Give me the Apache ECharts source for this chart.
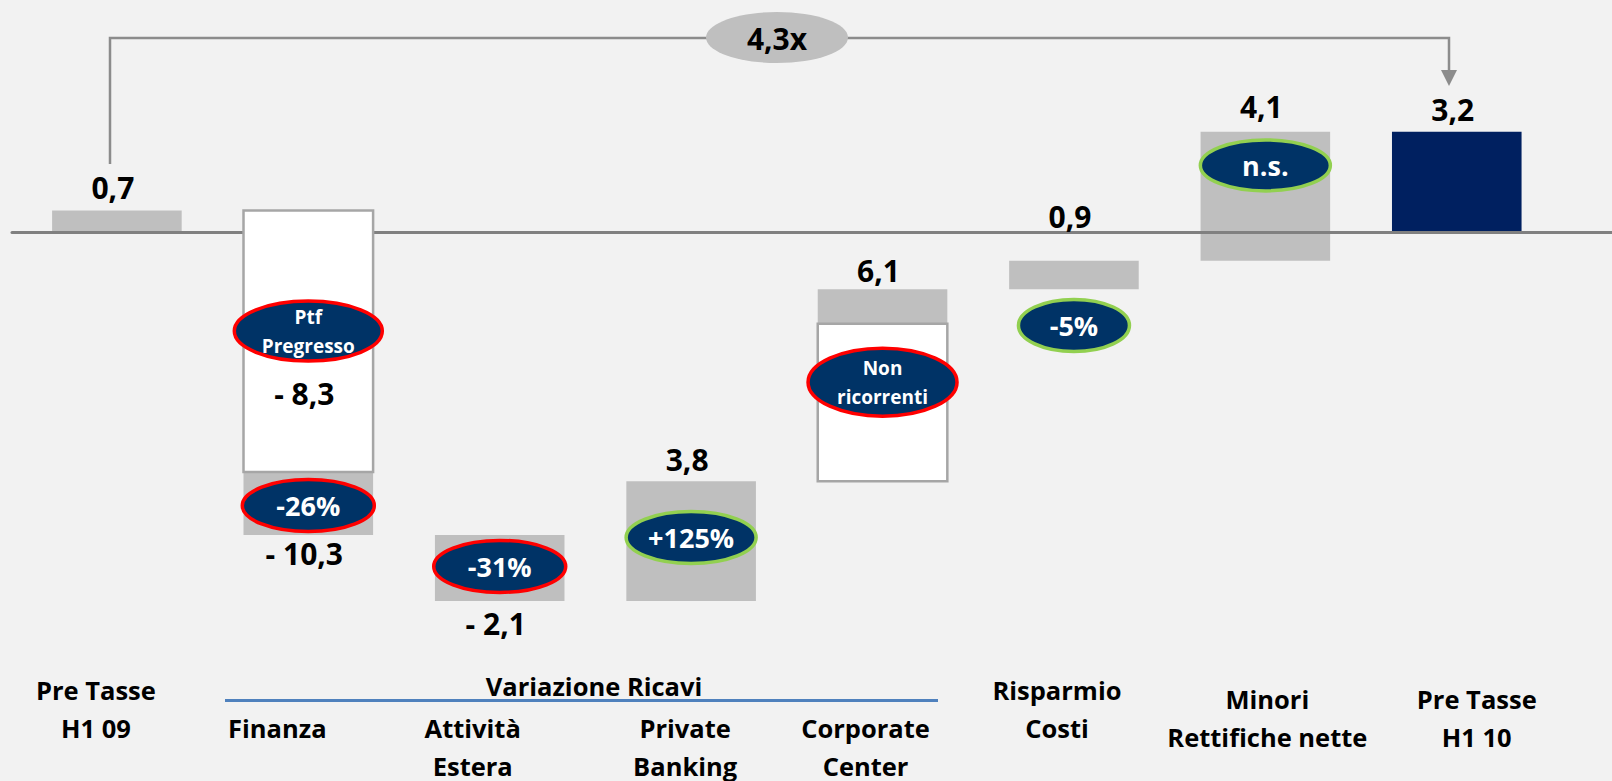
<!DOCTYPE html>
<html>
<head>
<meta charset="utf-8">
<script src="https://cdn.jsdelivr.net/npm/echarts@6/dist/echarts.min.js"></script>
<style>
  html, body { margin: 0; padding: 0; background: #f2f2f2; }
  #chart { width: 1612px; height: 781px; }
</style>
</head>
<body>
<div id="chart"></div>
<script>
// categorie del waterfall
const categories = [
  ['Pre Tasse', 'H1 09'],
  ['Finanza'],
  ['Attività', 'Estera'],
  ['Private', 'Banking'],
  ['Corporate', 'Center'],
  ['Risparmio', 'Costi'],
  ['Minori', 'Rettifiche nette'],
  ['Pre Tasse', 'H1 10']
]
// variazioni (la prima e l'ultima sono totali)
const deltas = [0.7, -10.3, -2.1, 3.8, 6.1, 0.9, 4.1, 3.2]
const isTotal = [true, false, false, false, false, false, false, true]
// quota bianca dentro la barra: Ptf Pregresso (Finanza), Non ricorrenti (Corporate Center)
const whitePart = [0, -8.3, 0, 0, 5.0, 0, 0, 0]
const whiteLabelShown = [false, true, false, false, false, false, false, false]
// badge
const badgeText = ['Ptf\nPregresso', '-26%', '-31%', '+125%', 'Non\nricorrenti', '-5%', 'n.s.']
const badgeCat = [1, 1, 2, 3, 4, 5, 6]
const badgeGood = [false, false, false, true, false, true, true]
const multiple = '4,3x'
const groupTitle = 'Variazione Ricavi'

// --- layout (posizioni, non dati) ---
const BAR_W = 0.677
const labelGap = [23, 19, 22, 22, 19, 44, 25, 22]          // px dal bordo barra
const innerLabelY = -5.1
const badgeY = [-3.13, -8.67, -10.6, -9.68, -4.75, -2.95, 2.13]
const badgeR = [[74, 30], [66, 26], [66, 26], [65, 26], [74.5, 34], [55.5, 26], [65, 25.5]]
const labelShift = [-21, -31, -27, -6, -17, -17, 2, 20]
const labelLead = [0, 1, 1, 1, 1, 0, 0.25, 0.25]
const ROW_H = 38

const FONT = '"Open Sans", sans-serif'
const GRAY = '#bfbfbf'
const NAVY = '#002060'
const BADGE = '#003366'

const fmt = v => (v < 0 ? '- ' : '') + Math.abs(v).toFixed(1).replace('.', ',')

// costruzione waterfall
const bars = []
const whites = []
const labels = []
const labelTexts = []
let run = 0
deltas.forEach((d, i) => {
  const start = isTotal[i] ? 0 : run
  const end = isTotal[i] ? d : run + d
  run = end
  const lo = Math.min(start, end)
  const hi = Math.max(start, end)
  bars.push({ value: [i, lo, hi], itemStyle: { color: i === deltas.length - 1 ? NAVY : GRAY } })
  if (whitePart[i]) {
    const e2 = start + whitePart[i]
    whites.push([i, Math.min(start, e2), Math.max(start, e2)])
    if (whiteLabelShown[i]) {
      labels.push([i, innerLabelY, 0])
      labelTexts.push(fmt(whitePart[i]))
    }
  }
  labels.push([i, d >= 0 ? hi : lo, d >= 0 ? -labelGap[i] : labelGap[i]])
  labelTexts.push(fmt(d))
})

function rectItem(api, style) {
  const w = api.size([BAR_W, 0])[0]
  const top = api.coord([api.value(0), api.value(2)])
  const bot = api.coord([api.value(0), api.value(1)])
  return {
    type: 'rect',
    shape: { x: top[0] - w / 2, y: top[1], width: w, height: bot[1] - top[1] },
    style: style
  }
}

// etichette asse x (rich per spostamenti e righe)
const rich = {
  gl: { lineHeight: ROW_H, fontSize: 1 },
  gq: { lineHeight: 9.5, fontSize: 1 }
}
categories.forEach((c, i) => {
  const s = labelShift[i]
  rich['c' + i] = {
    fontSize: 25.5, fontWeight: 'bold', fontFamily: FONT, color: '#000', lineHeight: ROW_H,
    padding: [0, s < 0 ? -2 * s : 0, 0, s > 0 ? 2 * s : 0]
  }
})

const chart = echarts.init(document.getElementById('chart'), null, { renderer: 'svg' })

chart.setOption({
  backgroundColor: '#f2f2f2',
  animation: false,
  textStyle: { fontFamily: FONT },
  grid: { left: 12, right: 0, top: 43.5, bottom: 139, outerBoundsMode: 'none' },
  xAxis: [
    {
      type: 'value',
      min: -0.548,
      max: 7.811,
      position: 'bottom',
      axisLine: { show: false, onZero: false },
      axisTick: { show: false },
      splitLine: { show: false },
      axisLabel: {
        customValues: categories.map((c, i) => i),
        margin: 28.5,
        lineHeight: ROW_H,
        formatter: v => {
          const i = Math.round(v)
          const out = []
          if (labelLead[i] === 1) out.push('{gl| }')
          if (labelLead[i] === 0.25) out.push('{gq| }')
          categories[i].forEach(l => out.push('{c' + i + '|' + l + '}'))
          return out.join('\n')
        },
        rich: rich
      }
    },
    {
      type: 'value',
      min: -0.548,
      max: 7.811,
      position: 'top',
      z: 3,
      axisLine: { show: true, onZero: true, lineStyle: { color: '#808080', width: 3 } },
      axisTick: { show: false },
      axisLabel: { show: false },
      splitLine: { show: false }
    }
  ],
  yAxis: { type: 'value', min: -13, max: 6, show: false },
  series: [
    {
      type: 'custom',
      z: 2,
      data: bars,
      renderItem: (params, api) => rectItem(api, { fill: api.visual('color') })
    },
    {
      type: 'custom',
      z: 4,
      data: whites,
      renderItem: (params, api) => rectItem(api, { fill: '#ffffff', stroke: '#a6a6a6', lineWidth: 2.5 })
    },
    {
      type: 'custom',
      z: 5,
      data: labels,
      renderItem: (params, api) => {
        const p = api.coord([api.value(0), api.value(1)])
        return {
          type: 'text',
          style: {
            text: labelTexts[params.dataIndex],
            x: p[0] - 4, y: p[1] + api.value(2),
            fill: '#000', fontSize: 30, fontWeight: 'bold', fontFamily: FONT,
            align: 'center', verticalAlign: 'middle',
            textAlign: 'center', textVerticalAlign: 'middle'
          }
        }
      }
    },
    {
      type: 'custom',
      z: 6,
      data: badgeText.map((t, i) => [badgeCat[i], badgeY[i], i]),
      renderItem: (params, api) => {
        const i = params.dataIndex
        const p = api.coord([api.value(0), api.value(1)])
        const twoLines = badgeText[i].indexOf('\n') >= 0
        return {
          type: 'group',
          children: [
            {
              type: 'ellipse',
              shape: { cx: p[0], cy: p[1], rx: badgeR[i][0], ry: badgeR[i][1] },
              style: { fill: BADGE, stroke: badgeGood[i] ? '#92d050' : '#ff0000', lineWidth: 3.5 }
            },
            {
              type: 'text',
              style: {
                text: badgeText[i],
                x: p[0], y: p[1],
                fill: '#ffffff', fontWeight: 'bold', fontFamily: FONT,
                fontSize: twoLines ? 19 : 27, lineHeight: 29,
                align: 'center', verticalAlign: 'middle',
                textAlign: 'center', textVerticalAlign: 'middle'
              }
            }
          ]
        }
      }
    }
  ],
  graphic: [
    {
      type: 'polyline', z: 10,
      shape: { points: [[110, 164], [110, 38], [1449, 38], [1449, 72]] },
      style: { stroke: '#8c8c8c', lineWidth: 2.5, fill: null }
    },
    {
      type: 'polygon', z: 10,
      shape: { points: [[1441, 70], [1457, 70], [1449, 86]] },
      style: { fill: '#8c8c8c' }
    },
    {
      type: 'ellipse', z: 11,
      shape: { cx: 777, cy: 37.5, rx: 71, ry: 25.5 },
      style: { fill: '#bfbfbf' }
    },
    {
      type: 'text', z: 12,
      style: {
        text: multiple, x: 777, y: 38,
        fill: '#000', fontSize: 30, fontWeight: 'bold', fontFamily: FONT,
        align: 'center', verticalAlign: 'middle', textAlign: 'center', textVerticalAlign: 'middle'
      }
    },
    {
      type: 'text', z: 12,
      style: {
        text: groupTitle, x: 594, y: 686,
        fill: '#000', fontSize: 25.5, fontWeight: 'bold', fontFamily: FONT,
        align: 'center', verticalAlign: 'middle', textAlign: 'center', textVerticalAlign: 'middle'
      }
    },
    {
      type: 'line', z: 12,
      shape: { x1: 225, y1: 700.5, x2: 938, y2: 700.5 },
      style: { stroke: '#4f81bd', lineWidth: 3 }
    }
  ]
})
</script>
</body>
</html>
